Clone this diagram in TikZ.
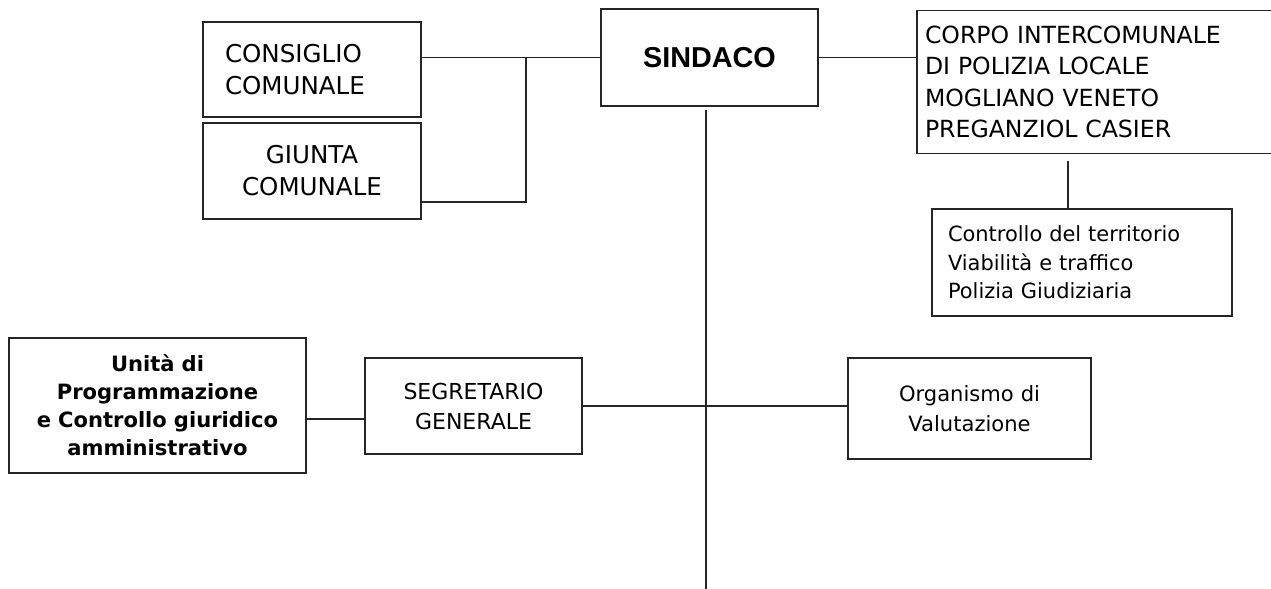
\documentclass[tikz,border=0pt]{standalone}
\usepackage{fontspec}
\setmainfont{DejaVu Sans}
\newfontfamily\sindacofont{Liberation Sans}
\usetikzlibrary{positioning}

\begin{document}
\begin{tikzpicture}[x=0.75pt, y=-0.75pt,
		box/.style={draw=black!85, line width=1.1pt, inner sep=0pt, outer sep=0pt, align=center},
		link/.style={draw=black!85, line width=1.1pt}]
	\useasboundingbox (0,0) rectangle (1271,589);
	
	% vertici
	\node[box, minimum width=162.75pt, minimum height=72.75pt, font=\sindacofont\bfseries\fontsize{21.6}{26}\selectfont] (sindaco) at (709.5,57.5) {SINDACO};
	\node[box, align=left, inner xsep=16.5pt, text width=130.5pt, minimum width=163.5pt, minimum height=71.25pt, font=\fontsize{18.4}{24}\selectfont] (consiglio) at (312,69.5) {CONSIGLIO\\COMUNALE};
	\node[box, text width=163.5pt, minimum height=72pt, font=\fontsize{18.4}{24}\selectfont] (giunta) at (312,171) {GIUNTA\\COMUNALE};
	\node[box, align=left, inner xsep=6pt, text width=260.25pt, minimum width=272.25pt, minimum height=107.6pt, font=\fontsize{17.7}{23.6}\selectfont] (corpo) at (1098.5,82) {CORPO INTERCOMUNALE\\DI POLIZIA LOCALE\\MOGLIANO VENETO\\PREGANZIOL CASIER};
	\node[box, align=left, inner xsep=12pt, text width=201pt, minimum width=225pt, minimum height=80.25pt, font=\fontsize{15.7}{21.4}\selectfont] (controllo) at (1082,262.5) {Controllo del territorio\\Viabilità e traffico\\Polizia Giudiziaria};
	
	% staff
	\node[box, text width=222.75pt, minimum height=101.25pt, font=\bfseries\fontsize{15.8}{21}\selectfont] (unita) at (157.5,405.5) {Unità di\\Programmazione\\e Controllo giuridico\\amministrativo};
	\node[box, text width=162.75pt, minimum height=72pt, font=\fontsize{16.5}{22.5}\selectfont] (segretario) at (473.5,406) {SEGRETARIO\\GENERALE};
	\node[box, text width=182.25pt, minimum height=75.75pt, font=\fontsize{15.8}{22}\selectfont] (organismo) at (969.5,408.5) {Organismo di\\Valutazione};
	
	\coordinate (cj) at (526,58);
	\coordinate (gj) at (526,202);
	\coordinate (cc) at (1068,161);
	\coordinate (mtop) at (706,110);
	\coordinate (mbot) at (706,589);
	
	\draw[link] (sindaco.west) -- (sindaco.west -| consiglio.east);
	\draw[link] (cj) -- (gj) -- (gj -| giunta.east);
	\draw[link] (sindaco.east) -- (sindaco.east -| corpo.west);
	\draw[link] (cc) -- (cc |- controllo.north);
	\draw[link] (mtop) -- (mbot);
	\draw[link] (segretario.east) -- (segretario.east -| organismo.west);
	\draw[link] ([yshift=-9.75pt]segretario.west) -- ([yshift=-9.75pt]segretario.west -| unita.east);
\end{tikzpicture}
\end{document}
